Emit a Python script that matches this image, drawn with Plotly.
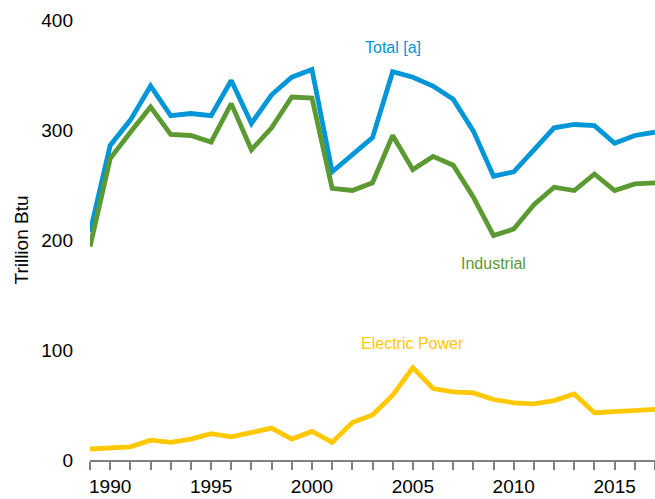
import plotly.graph_objects as go

years = list(range(1989, 2018))
total = [207, 286, 309, 340, 313, 315, 313, 345, 306, 332, 348, 355,
         262, 278, 293, 353, 348, 340, 328, 299, 258, 262, 282, 302,
         305, 304, 288, 295, 298]
industrial = [194, 274, 298, 321, 296, 295, 289, 324, 282, 302, 330, 329,
              247, 245, 252, 295, 264, 276, 268, 239, 204, 210, 232, 248,
              245, 260, 245, 251, 252]
electric = [10, 11, 12, 18, 16, 19, 24, 21, 25, 29, 19, 26,
            16, 34, 41, 59, 84, 65, 62, 61, 55, 52, 51, 54,
            60, 43, 44, 45, 46]
x_tick_vals = [1990, 1995, 2000, 2005, 2010, 2015]
y_tick_vals = [0, 100, 200, 300, 400]

BLUE = "#0096D7"
GREEN = "#5B9A32"
YELLOW = "#FFC800"
FONT = "Arial, Liberation Sans, sans-serif"

fig = go.Figure()
fig.add_trace(go.Scatter(x=years, y=total, mode="lines", name="Total [a]",
                         line=dict(color=BLUE, width=4.8)))
fig.add_trace(go.Scatter(x=years, y=industrial, mode="lines", name="Industrial",
                         line=dict(color=GREEN, width=4.8)))
fig.add_trace(go.Scatter(x=years, y=electric, mode="lines", name="Electric Power",
                         line=dict(color=YELLOW, width=4.8)))

fig.add_annotation(x=2004.0, y=375, text="Total [a]", showarrow=False,
                   font=dict(family=FONT, size=16, color=BLUE))
fig.add_annotation(x=2009.0, y=179, text="Industrial", showarrow=False,
                   font=dict(family=FONT, size=16, color=GREEN))
fig.add_annotation(x=2005.0, y=106, text="Electric Power", showarrow=False,
                   font=dict(family=FONT, size=16, color=YELLOW))

fig.update_layout(
    width=655, height=499,
    margin=dict(l=90, r=0, t=20, b=39),
    paper_bgcolor="white", plot_bgcolor="white",
    showlegend=False,
    font=dict(family=FONT, size=19, color="#000000"),
)
fig.update_xaxes(
    range=[1989, 2017],
    tickvals=x_tick_vals, ticktext=[str(v) for v in x_tick_vals],
    showgrid=False, zeroline=False,
    showline=True, linecolor="#808080", linewidth=2,
    ticks="outside", ticklen=8, tickcolor="#808080", tickwidth=1.5,
    minor=dict(tick0=1989, dtick=1, ticks="outside", ticklen=8,
               tickcolor="#808080", tickwidth=1.5, showgrid=False),
    tickfont=dict(size=19),
)
fig.update_yaxes(
    range=[0, 400],
    tickvals=y_tick_vals,
    showgrid=False, zeroline=False, showline=False,
    ticks="", ticklabelstandoff=16,
    tickfont=dict(size=19),
    title=dict(text="Trillion Btu", font=dict(size=19), standoff=7),
)

fig.write_html("out.html",
               config={"displayModeBar": False},
               post_script="document.body.style.margin='0';"
                           "document.body.style.overflow='hidden';")
